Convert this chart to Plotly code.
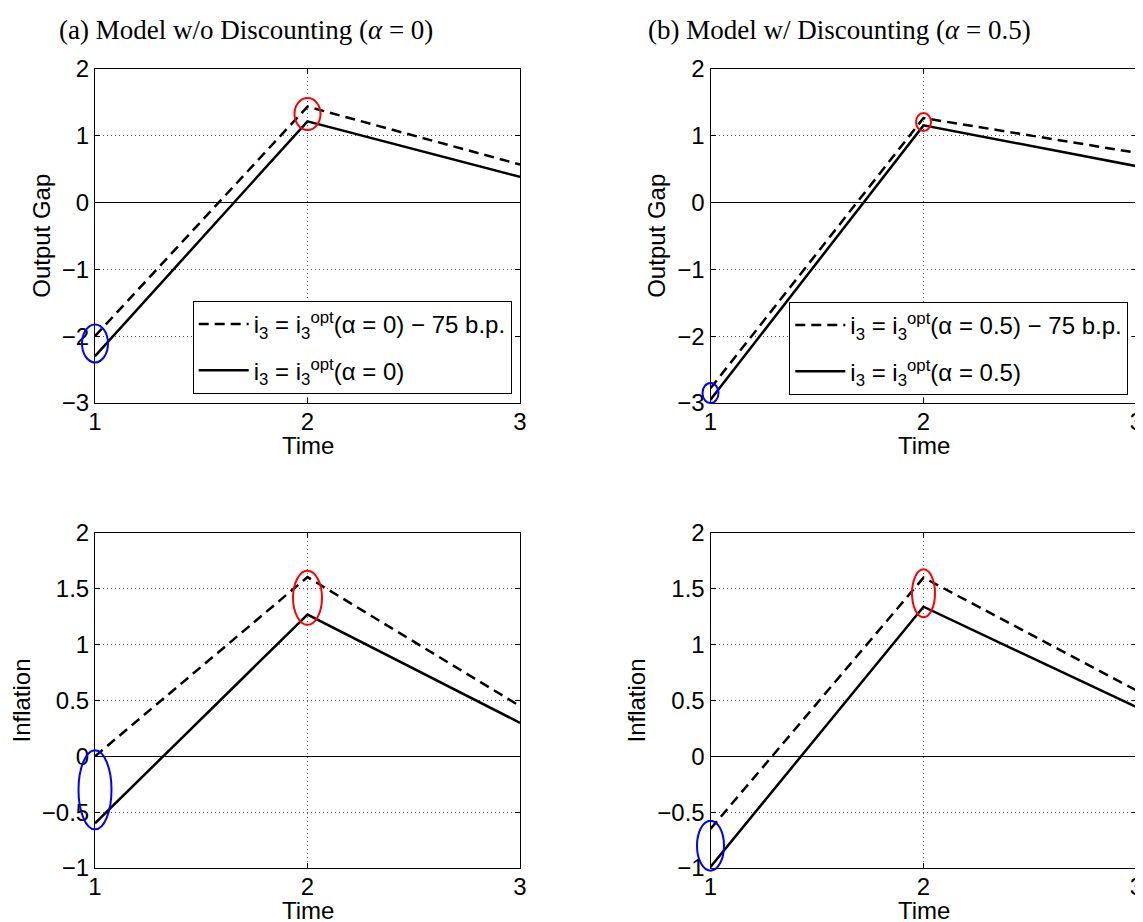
import plotly.graph_objects as go

# ---------------- data ----------------
time = [1, 2, 3]

# Output gap
og_a_cut = [-2.00, 1.43, 0.565]   # i3 = i3opt(alpha=0) - 75 b.p.
og_a_opt = [-2.30, 1.21, 0.38]    # i3 = i3opt(alpha=0)
og_b_cut = [-2.78, 1.26, 0.74]    # i3 = i3opt(alpha=0.5) - 75 b.p.
og_b_opt = [-2.95, 1.15, 0.54]    # i3 = i3opt(alpha=0.5)

# Inflation
inf_a_cut = [0.00, 1.605, 0.45]
inf_a_opt = [-0.60, 1.27, 0.30]
inf_b_cut = [-0.65, 1.60, 0.59]
inf_b_opt = [-0.99, 1.34, 0.44]

# highlighted spots (ellipse centres): first at t=2 (red), second at t=1 (blue)
circle_t = [2, 1]
og_a_circ = [1.32, -2.11]
og_b_circ = [1.20, -2.85]
inf_a_circ = [1.42, -0.30]
inf_b_circ = [1.46, -0.80]

titles = ["(a) Model w/o Discounting (<i>α</i> = 0)",
          "(b) Model w/ Discounting (<i>α</i> = 0.5)"]
legend_a = ["i<sub>3</sub> = i<sub>3</sub><sup>opt</sup>(α = 0) − 75 b.p.",
            "i<sub>3</sub> = i<sub>3</sub><sup>opt</sup>(α = 0)"]
legend_b = ["i<sub>3</sub> = i<sub>3</sub><sup>opt</sup>(α = 0.5) − 75 b.p.",
            "i<sub>3</sub> = i<sub>3</sub><sup>opt</sup>(α = 0.5)"]
x_label = "Time"
y_labels = ["Output Gap", "Inflation"]

# ---------------- styling ----------------
# page body has an 8px margin; figure shifted so it lines up with the window
OFF = 8
W, H = 1143 - OFF, 922 - OFF
SANS = "Liberation Sans, Arial, Helvetica, sans-serif"
SERIF = "Liberation Serif, Times New Roman, serif"
FS = 24


def fx(px):
    return (px - OFF) / W


def fy(px):
    return 1 - (px - OFF) / H


dom_x = [[fx(95), fx(520)], [fx(710.5), fx(1136.5)]]
dom_y = [[fy(403), fy(68.5)], [fy(868), fy(533)]]
xlabel_y = [fy(445.5), fy(910.5)]
og_range, og_dtick = [-3, 2], 1
inf_range, inf_dtick = [-1, 2], 0.5
x_range = [1, 3]

# ellipse pixel sizes (w, h) for [red, blue]
circle_px = {
    "og_a": [(26, 32), (26, 38)],
    "og_b": [(15, 18), (16, 20)],
    "inf_a": [(29, 54), (33, 79)],
    "inf_b": [(23, 48), (27, 50)],
}
circle_colors = ["#ff0000", "#0000ff"]

panels = [
    # key, row, col, cut, opt, circ, yrange, dtick, legend, names
    ("og_a", 0, 0, og_a_cut, og_a_opt, og_a_circ, og_range, og_dtick, "legend", legend_a),
    ("og_b", 0, 1, og_b_cut, og_b_opt, og_b_circ, og_range, og_dtick, "legend2", legend_b),
    ("inf_a", 1, 0, inf_a_cut, inf_a_opt, inf_a_circ, inf_range, inf_dtick, None, None),
    ("inf_b", 1, 1, inf_b_cut, inf_b_opt, inf_b_circ, inf_range, inf_dtick, None, None),
]

fig = go.Figure()
layout = {}
shapes = []
annotations = []

for i, (key, row, col, cut, opt, circ, yr, dt, leg, names) in enumerate(panels):
    n = "" if i == 0 else str(i + 1)
    xa, ya = "x" + n, "y" + n
    show = leg is not None
    fig.add_trace(go.Scatter(
        x=time, y=cut, mode="lines", xaxis=xa, yaxis=ya,
        line=dict(color="black", width=2.5, dash="10px,6px"),
        name=names[0] if show else "", showlegend=show,
        legendgroup=f"cut{i}", legend=leg if show else None, hoverinfo="skip"))
    fig.add_trace(go.Scatter(
        x=time, y=opt, mode="lines", xaxis=xa, yaxis=ya,
        line=dict(color="black", width=2.5),
        name=names[1] if show else "", showlegend=show,
        legendgroup=f"opt{i}", legend=leg if show else None, hoverinfo="skip"))

    common = dict(
        showline=True, linecolor="black", linewidth=1, mirror="ticks",
        ticks="inside", ticklen=5, tickcolor="black", tickwidth=1,
        showgrid=True, gridcolor="#555555", griddash="1px,3px", gridwidth=1,
        tickfont=dict(family=SANS, size=FS, color="black"), automargin=False,
        ticklabeloverflow="allow",
    )
    layout["xaxis" + n] = dict(
        common, domain=dom_x[col], anchor=ya, range=x_range,
        tickmode="array", tickvals=time, zeroline=False, ticklabelstandoff=-3,
    )
    layout["yaxis" + n] = dict(
        common, domain=dom_y[row], anchor=xa, range=yr,
        tickmode="linear", tick0=yr[0], dtick=dt,
        zeroline=True, zerolinecolor="black", zerolinewidth=1,
        title=dict(text=y_labels[row], font=dict(family=SANS, size=FS, color="black"), standoff=4),
    )
    # x-axis title (placed as annotation so it is not pushed into the tick labels)
    annotations.append(dict(
        text=x_label, xref=xa + " domain", yref="paper", x=0.5, y=xlabel_y[row],
        xanchor="center", yanchor="middle", showarrow=False,
        font=dict(family=SANS, size=FS, color="black")))

    for j in range(2):
        w, h = circle_px[key][j]
        shapes.append(dict(
            type="circle", xref=xa + " domain", yref=ya + " domain",
            xsizemode="pixel", ysizemode="pixel",
            xanchor=(circle_t[j] - x_range[0]) / (x_range[1] - x_range[0]),
            yanchor=(circ[j] - yr[0]) / (yr[1] - yr[0]),
            x0=-w / 2, x1=w / 2, y0=-h / 2, y1=h / 2,
            line=dict(color=circle_colors[j], width=2), layer="above",
        ))

leg_common = dict(
    xanchor="right", yanchor="bottom", bgcolor="white",
    bordercolor="black", borderwidth=1, itemwidth=50, tracegroupgap=12,
    font=dict(family=SANS, size=FS, color="black"),
)
layout["legend"] = dict(leg_common, x=fx(511.7), y=fy(394))
layout["legend2"] = dict(leg_common, x=fx(1128.3), y=fy(395))

annotations += [
    dict(text=titles[0], x=fx(57), y=fy(30), xref="paper", yref="paper",
         xanchor="left", yanchor="middle", showarrow=False,
         font=dict(family=SERIF, size=27, color="black")),
    dict(text=titles[1], x=fx(646), y=fy(30), xref="paper", yref="paper",
         xanchor="left", yanchor="middle", showarrow=False,
         font=dict(family=SERIF, size=27, color="black")),
]

fig.update_layout(
    width=W, height=H, margin=dict(l=0, r=0, t=0, b=0, autoexpand=False),
    paper_bgcolor="white", plot_bgcolor="white",
    shapes=shapes, annotations=annotations, **layout,
)

fig.write_html("out.html")
